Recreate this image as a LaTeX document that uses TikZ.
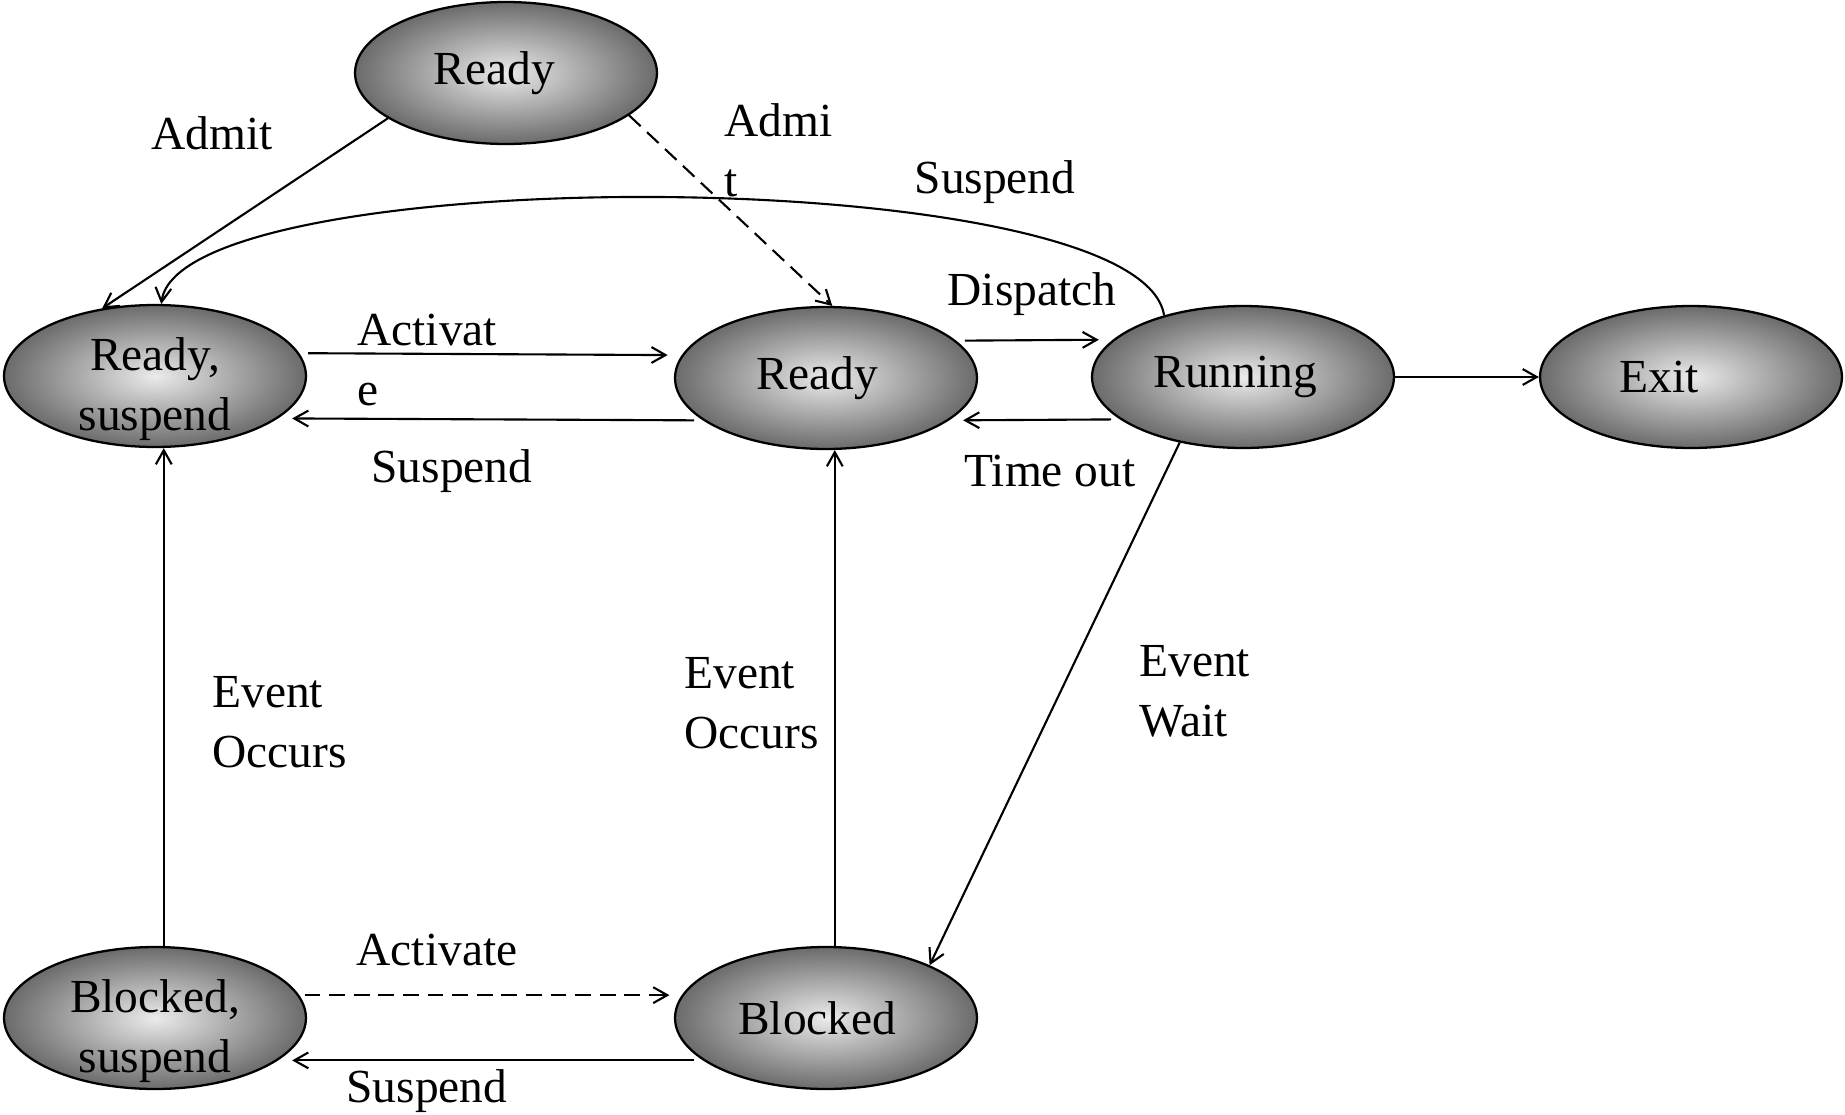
\documentclass[tikz,border=0pt]{standalone}
\usepackage{fontspec}
\setmainfont{Liberation Serif}
\usetikzlibrary{shapes.geometric,arrows.meta}
\begin{document}
\begin{tikzpicture}[x=0.02cm, y=-0.02cm, >={Straight Barb[length=8pt,width=9pt]},
        every state/.style={ellipse, draw, line width=1.3pt, minimum width=6.04cm,
            minimum height=2.84cm, inner sep=0pt, inner ysep=-12pt, inner color=black!8,
            outer color=black!58, align=center, font=\fontsize{27}{34}\selectfont},
        every caption/.style={inner sep=0pt, align=left, font=\fontsize{27}{34}\selectfont},
        every link/.style={line width=1.2pt}]
        \useasboundingbox (0,0) rectangle (1845,1115);

        %%%%%%%%%%%%%%%%%%%%%%%%%%%%%%%%%%%%%%%%%%%%
        % State nodes
        %%%%%%%%%%%%%%%%%%%%%%%%%%%%%%%%%%%%%%%%%%%%

        % Drawing
        \foreach \n/\t/\x/\y in {top/{\hspace*{-13pt}Ready}/506/73,
                rs/{\rule{0pt}{34pt}Ready,\\suspend}/155/376,
                rd/{\hspace*{-10pt}Ready}/826/378, ru/{\hspace*{-9pt}Running}/1243/377,
                ex/{\hspace*{-36pt}Exit}/1691/377,
                bs/{\rule{0pt}{34pt}Blocked,\\suspend}/155/1018,
                bl/{\hspace*{-10pt}Blocked}/826/1018}
            \node [every state/.try] (\n) at (\x,\y) {\t};


        %%%%%%%%%%%%%%%%%%%%%%%%%%%%%%%%%%%%%%%%%%%%
        % Connecting
        %%%%%%%%%%%%%%%%%%%%%%%%%%%%%%%%%%%%%%%%%%%%

        % Horizontal links
        \foreach \a/\b in {rs.9/rd.171, rd.199/rs.-19, rd.16/ru.164, ru.199/rd.-19,
                bl.-161/bs.-19}
            \draw [every link/.try, ->, shorten <=5pt, shorten >=8pt] (\a) -- (\b);
        \draw [every link/.try, ->] (ru.east) -- (ex.west);

        % Slanted links
        \foreach \a/\b in {top.201/rs.128, ru.226/bl.27}
            \draw [every link/.try, ->] (\a) -- (\b);

        % Event occurs (upwards)
        \draw [every link/.try, ->] ([xshift=5pt]bs.north) -- ([xshift=5pt]rs.south);
        \draw [every link/.try, ->] ([xshift=5pt]bl.north) -- ([xshift=5pt]rd.south);

        % Dashed links
        \draw [every link/.try, ->, dash pattern=on 9pt off 5pt] (top.-19) -- (rd.85);
        \draw [every link/.try, ->, dash pattern=on 9pt off 5pt, shorten <=3pt,
            shorten >=7pt] (bs.9) -- (bl.171);

        % Suspend from running
        \draw [every link/.try, ->] (ru.142) .. controls (1140,160) and (180,160) .. (rs.85);


        %%%%%%%%%%%%%%%%%%%%%%%%%%%%%%%%%%%%%%%%%%%%
        % Labeling links
        %%%%%%%%%%%%%%%%%%%%%%%%%%%%%%%%%%%%%%%%%%%%
        \node [every caption/.try, anchor=west] (l-admit) at (151,133) {Admit};
        \node [every caption/.try, anchor=west] (l-admit2) at (724,150) {Admi\\t};
        \node [every caption/.try] (l-susp1) at (995,182) {Suspend};
        \node [every caption/.try, anchor=west] (l-act1) at (357,360) {Activat\\e};
        \node [every caption/.try] (l-susp2) at (452,471) {Suspend};
        \node [every caption/.try] (l-disp) at (1032,294) {Dispatch};
        \node [every caption/.try] (l-time) at (1050,471) {Time out};
        \node [every caption/.try, anchor=west] (l-wait) at (1139,691) {Event\\Wait};
        \node [every caption/.try, anchor=west] (l-occ2) at (684,703) {Event\\Occurs};
        \node [every caption/.try, anchor=west] (l-occ1) at (212,722) {Event\\Occurs};
        \node [every caption/.try] (l-act2) at (437,950) {Activate};
        \node [every caption/.try] (l-susp3) at (427,1091) {Suspend};
    \end{tikzpicture}
\end{document}
